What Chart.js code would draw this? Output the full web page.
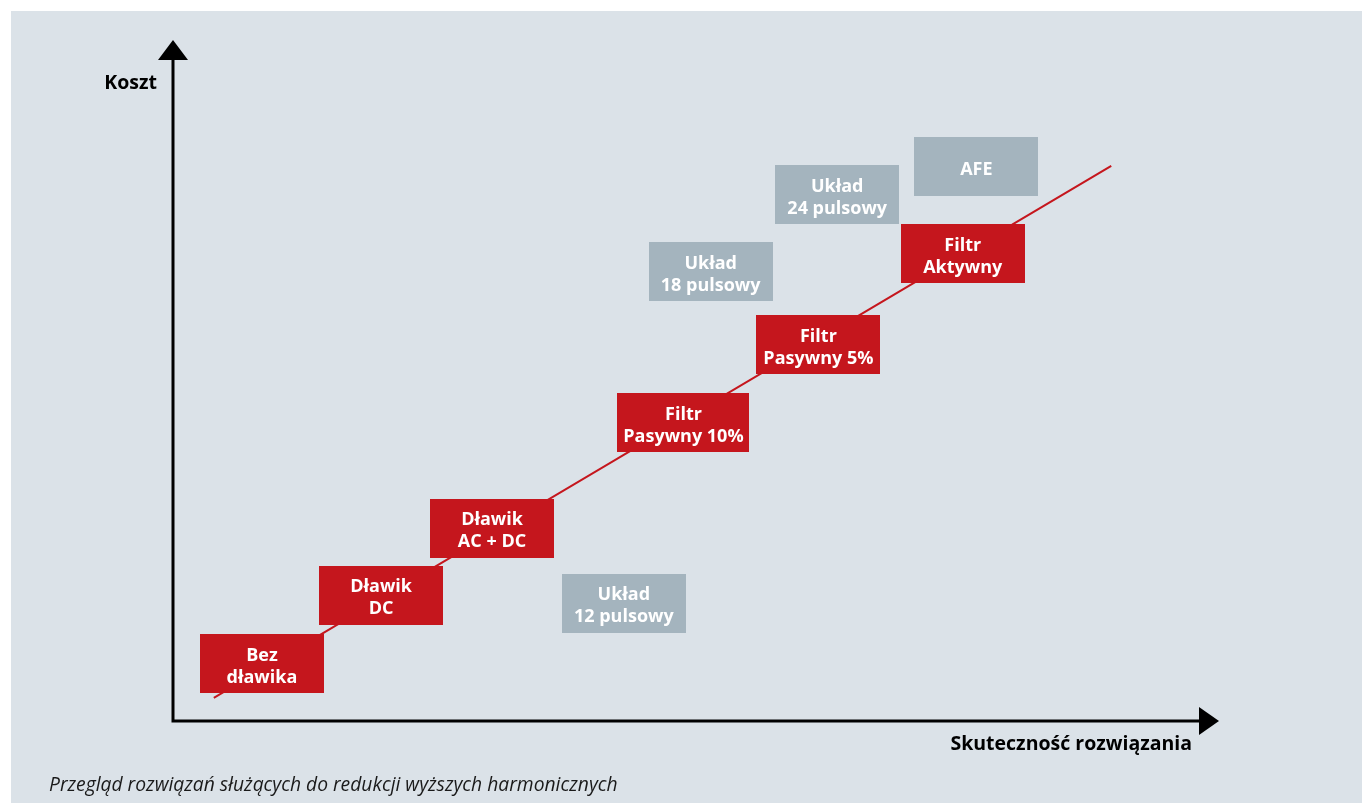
<!DOCTYPE html>
<html lang="pl">
<head>
<meta charset="utf-8">
<title>Przegląd rozwiązań</title>
<script src="https://cdn.jsdelivr.net/npm/chart.js@4.4.1/dist/chart.umd.min.js"></script>
<style>
  html, body { margin: 0; padding: 0; background: #ffffff; }
  canvas { display: block; }
</style>
</head>
<body>
<canvas id="chart" width="1362" height="803"></canvas>
<script>
// Rozwiązania (x = skuteczność, y = koszt, skala 0-100)
const redLabels = [['Bez', 'dławika'], ['Dławik', 'DC'], ['Dławik', 'AC + DC'], ['Filtr', 'Pasywny 10%'], ['Filtr', 'Pasywny 5%'], ['Filtr', 'Aktywny']];
const redX = [8.5, 19.9, 30.5, 48.8, 61.7, 75.5];
const redY = [8.4, 18.5, 28.3, 43.8, 55.3, 68.6];

const grayLabels = [['Układ', '12 pulsowy'], ['Układ', '18 pulsowy'], ['Układ', '24 pulsowy'], ['AFE']];
const grayX = [43.1, 51.4, 63.5, 76.8];
const grayY = [17.3, 66.0, 77.3, 81.4];

// linia trendu
const trendX = [3.9, 89.7];
const trendY = [3.4, 81.5];

const yTitle = 'Koszt';
const xTitle = 'Skuteczność rozwiązania';
const caption = 'Przegląd rozwiązań służących do redukcji wyższych harmonicznych';

const BG = '#dbe2e8';
const RED = '#c5161d';
const GRAY = '#a4b4be';
const FONT = '"Open Sans", "Noto Sans", sans-serif';

const toPoints = (xs, ys) => xs.map((x, i) => ({ x: x, y: ys[i] }));

// tło + osie ze strzałkami
const backgroundPlugin = {
    id: 'backgroundPlugin',
    beforeDraw(chart) {
        const ctx = chart.ctx;
        ctx.save();
        ctx.fillStyle = '#ffffff';
        ctx.fillRect(0, 0, chart.width, chart.height);
        ctx.fillStyle = BG;
        ctx.fillRect(11, 11, chart.width - 11, chart.height - 11);
        ctx.restore();
    },
    afterDraw(chart) {
        const ctx = chart.ctx;
        const area = chart.chartArea;
        ctx.save();
        ctx.strokeStyle = '#000000';
        ctx.fillStyle = '#000000';
        ctx.lineWidth = 3;
        ctx.beginPath();
        ctx.moveTo(area.left, area.bottom + 1.5);
        ctx.lineTo(area.left, area.top + 20);
        ctx.moveTo(area.left - 1.5, area.bottom);
        ctx.lineTo(area.right - 20, area.bottom);
        ctx.stroke();

        // strzałka pionowa
        ctx.beginPath();
        ctx.moveTo(area.left, area.top);
        ctx.lineTo(area.left - 15, area.top + 20);
        ctx.lineTo(area.left + 15, area.top + 20);
        ctx.closePath();
        ctx.fill();
        // strzałka pozioma
        ctx.beginPath();
        ctx.moveTo(area.right, area.bottom);
        ctx.lineTo(area.right - 20, area.bottom - 14);
        ctx.lineTo(area.right - 20, area.bottom + 14);
        ctx.closePath();
        ctx.fill();

        // tytuły osi
        ctx.font = 'bold 19.5px ' + FONT;
        ctx.textBaseline = 'middle';
        ctx.textAlign = 'right';
        ctx.fillText(yTitle, 157, 83);
        ctx.fillText(xTitle, 1192, 744);

        // podpis
        ctx.font = 'italic 19.3px ' + FONT;
        ctx.textAlign = 'left';
        ctx.fillStyle = '#1a1a1a';
        ctx.fillText(caption, 49, 786);
        ctx.restore();
    }
};

// prostokąty z opisami, rysowane w miejscu punktów
const boxPlugin = {
    id: 'boxPlugin',
    afterDatasetsDraw(chart) {
        const ctx = chart.ctx;
        ctx.save();
        ctx.font = 'bold 18px ' + FONT;
        ctx.textAlign = 'center';
        ctx.textBaseline = 'middle';
        chart.data.datasets.forEach((ds, di) => {
            if (!ds.boxLabels) return;
            const meta = chart.getDatasetMeta(di);
            meta.data.forEach((pt, i) => {
                const lines = ds.boxLabels[i];
                const textW = Math.max(...lines.map(l => ctx.measureText(l).width));
                const w = Math.max(124, textW + 12);
                const h = 59;
                ctx.fillStyle = ds.boxColor;
                ctx.fillRect(Math.round(pt.x - w / 2), Math.round(pt.y - h / 2), Math.round(w), h);
                ctx.fillStyle = '#ffffff';
                const step = 22;
                const start = pt.y + 3 - (lines.length - 1) * step / 2;
                lines.forEach((l, li) => ctx.fillText(l, pt.x, start + li * step));
            });
        });
        ctx.restore();
    }
};

const ctx = document.getElementById('chart').getContext('2d');
new Chart(ctx, {
    type: 'scatter',
    data: {
        datasets: [
            {
                label: 'trend',
                data: toPoints(trendX, trendY),
                showLine: true,
                borderColor: RED,
                borderWidth: 2,
                pointRadius: 0
            },
            {
                label: 'czerwone',
                data: toPoints(redX, redY),
                pointRadius: 0,
                boxLabels: redLabels,
                boxColor: RED
            },
            {
                label: 'szare',
                data: toPoints(grayX, grayY),
                pointRadius: 0,
                boxLabels: grayLabels,
                boxColor: GRAY
            }
        ]
    },
    options: {
        responsive: false,
        animation: false,
        layout: { padding: { left: 173, right: 143, top: 40, bottom: 82 } },
        plugins: {
            legend: { display: false },
            tooltip: { enabled: false }
        },
        scales: {
            x: { type: 'linear', min: 0, max: 100, display: false },
            y: { type: 'linear', min: 0, max: 100, display: false }
        }
    },
    plugins: [backgroundPlugin, boxPlugin]
});
</script>
</body>
</html>
